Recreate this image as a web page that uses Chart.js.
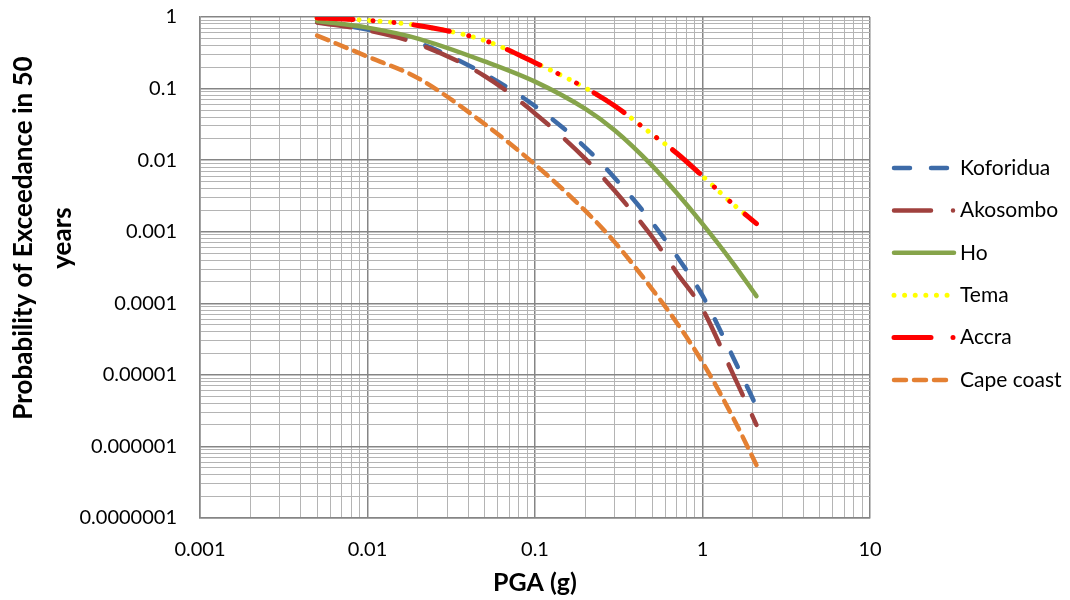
<!DOCTYPE html>
<html>
<head>
<meta charset="utf-8">
<script src="https://cdn.jsdelivr.net/npm/chart.js@4.4.1/dist/chart.umd.min.js"></script>
<style>
  html, body { margin: 0; padding: 0; background: #fff; }
</style>
</head>
<body>
<canvas id="myChart" width="1070" height="600"></canvas>
<script>
// PGA values (g) shared by all curves
const pga = [0.005, 0.01, 0.02, 0.05, 0.1, 0.2, 0.3, 0.5, 0.7, 1, 1.5, 2.1];

// probability of exceedance in 50 years
const koforidua = [0.85, 0.67, 0.44, 0.16, 0.057, 0.015, 0.0056, 0.00135, 0.00046, 0.000128, 0.000019, 0.0000036];
const akosombo  = [0.84, 0.65, 0.42, 0.15, 0.045, 0.0104, 0.0037, 0.00085, 0.00027, 0.000083, 0.000011, 0.000002];
const ho        = [0.88, 0.71, 0.5, 0.24, 0.125, 0.052, 0.026, 0.0084, 0.0035, 0.00129, 0.00038, 0.000126];
const tema      = [0.97, 0.9, 0.76, 0.47, 0.23, 0.102, 0.057, 0.023, 0.0126, 0.006, 0.0025, 0.0013];
const accra     = [0.97, 0.9, 0.76, 0.47, 0.23, 0.102, 0.057, 0.023, 0.0126, 0.006, 0.0025, 0.0013];
const capeCoast = [0.55, 0.28, 0.14, 0.032, 0.0087, 0.00195, 0.00071, 0.000158, 0.000054, 0.000015, 0.0000027, 0.00000055];

const seriesNames = ['Koforidua', 'Akosombo', 'Ho', 'Tema', 'Accra', 'Cape coast'];
const seriesValues = [koforidua, akosombo, ho, tema, accra, capeCoast];

const xTickLabels = ['0.001', '0.01', '0.1', '1', '10'];
const yTickLabels = ['0.0000001', '0.000001', '0.00001', '0.0001', '0.001', '0.01', '0.1', '1'];

// line looks (excel style dashes)
const styles = [
  { color: '#3D6BA8', width: 4.5, dash: [16, 21],                     legendDash: [16, 21] },
  { color: '#A0413E', width: 4.5, dash: [34, 22],                     legendDash: [37, 22, 0.01, 100] },
  { color: '#86A44A', width: 4.5, dash: [],                           legendDash: [] },
  { color: '#FFFF00', width: 5,   dash: [0.01, 10.5],                 legendDash: [0.01, 10.6] },
  { color: '#FF0000', width: 5,   dash: [36, 20, 0.01, 21, 0.01, 20], legendDash: [37, 22, 0.01, 100] },
  { color: '#E48032', width: 4.5, dash: [12, 8],                      legendDash: [12, 8] }
];

function isMajor(v) {
  const l = Math.log10(v);
  return Math.abs(l - Math.round(l)) < 1e-9;
}

function logTicks(e0, e1) {
  const out = [];
  for (let e = e0; e < e1; e++) {
    for (let m = 1; m <= 9; m++) {
      out.push({ value: Number((m * Math.pow(10, e)).toPrecision(6)) });
    }
  }
  out.push({ value: Math.pow(10, e1) });
  return out;
}

const gridColor = (c) => (c.tick && isMajor(c.tick.value)) ? '#858585' : '#B4B4B4';
const gridWidth = (c) => (c.tick && isMajor(c.tick.value)) ? 1.5 : 1;

const datasets = seriesNames.map((name, i) => ({
  label: name,
  data: pga.map((x, j) => ({ x: x, y: seriesValues[i][j] })),
  borderColor: styles[i].color,
  backgroundColor: styles[i].color,
  borderWidth: styles[i].width,
  borderDash: styles[i].dash,
  borderCapStyle: 'round',
  borderJoinStyle: 'round',
  pointRadius: 0,
  fill: false,
  cubicInterpolationMode: 'monotone',
  order: seriesNames.length - i
}));

const titlesAndLegend = {
  id: 'titlesAndLegend',
  afterDraw(chart) {
    const ctx = chart.ctx;
    ctx.save();
    ctx.fillStyle = '#000';
    ctx.textAlign = 'center';
    ctx.textBaseline = 'middle';
    ctx.font = 'bold 25px Lato';
    // x title
    ctx.fillText('PGA (g)', 535, 583);
    // y title, two lines
    ctx.font = 'bold 26px Lato';
    ctx.save();
    ctx.translate(24, 238);
    ctx.rotate(-Math.PI / 2);
    ctx.fillText('Probability of Exceedance in 50', 0, 0);
    ctx.restore();
    ctx.save();
    ctx.translate(63, 238);
    ctx.rotate(-Math.PI / 2);
    ctx.fillText('years', 0, 0);
    ctx.restore();

    // legend on the right
    ctx.font = '21px Lato';
    ctx.textAlign = 'left';
    seriesNames.forEach((name, i) => {
      const y = 168 + i * 42.4;
      const s = styles[i];
      ctx.beginPath();
      ctx.setLineDash(s.legendDash);
      ctx.lineCap = 'round';
      ctx.lineWidth = s.width;
      ctx.strokeStyle = s.color;
      ctx.moveTo(894, y);
      ctx.lineTo(i === 3 ? 950 : 954, y);
      ctx.stroke();
      ctx.setLineDash([]);
      ctx.fillStyle = '#000';
      ctx.fillText(name, 960, y);
    });
    ctx.restore();
  }
};

new Chart(document.getElementById('myChart'), {
  type: 'line',
  data: { datasets: datasets },
  options: {
    responsive: false,
    animation: false,
    layout: { padding: { top: 17, right: 200, left: 0, bottom: 0 } },
    plugins: { legend: { display: false }, tooltip: { enabled: false } },
    scales: {
      x: {
        type: 'logarithmic',
        min: 0.001,
        max: 10,
        afterBuildTicks: (s) => { s.ticks = logTicks(-3, 1); },
        afterFit: (s) => { s.height = 82; s.paddingLeft = 0; s.paddingRight = 0; },
        ticks: {
          autoSkip: false,
          maxRotation: 0,
          padding: 20,
          color: '#000',
          font: { family: 'Lato', size: 20 },
          callback: (v) => isMajor(v) ? xTickLabels[Math.round(Math.log10(v)) + 3] : ''
        },
        grid: { color: gridColor, lineWidth: gridWidth, drawTicks: false },
        border: { color: '#858585', width: 1.5 }
      },
      y: {
        type: 'logarithmic',
        min: 0.0000001,
        max: 1,
        afterBuildTicks: (s) => { s.ticks = logTicks(-7, 0); },
        afterFit: (s) => { s.width = 200; s.paddingTop = 0; s.paddingBottom = 0; },
        ticks: {
          autoSkip: false,
          padding: 23,
          color: '#000',
          font: { family: 'Lato', size: 20 },
          callback: (v) => isMajor(v) ? yTickLabels[Math.round(Math.log10(v)) + 7] : ''
        },
        grid: { color: gridColor, lineWidth: gridWidth, drawTicks: false },
        border: { color: '#858585', width: 1.5 }
      }
    }
  },
  plugins: [titlesAndLegend]
});
</script>
</body>
</html>
